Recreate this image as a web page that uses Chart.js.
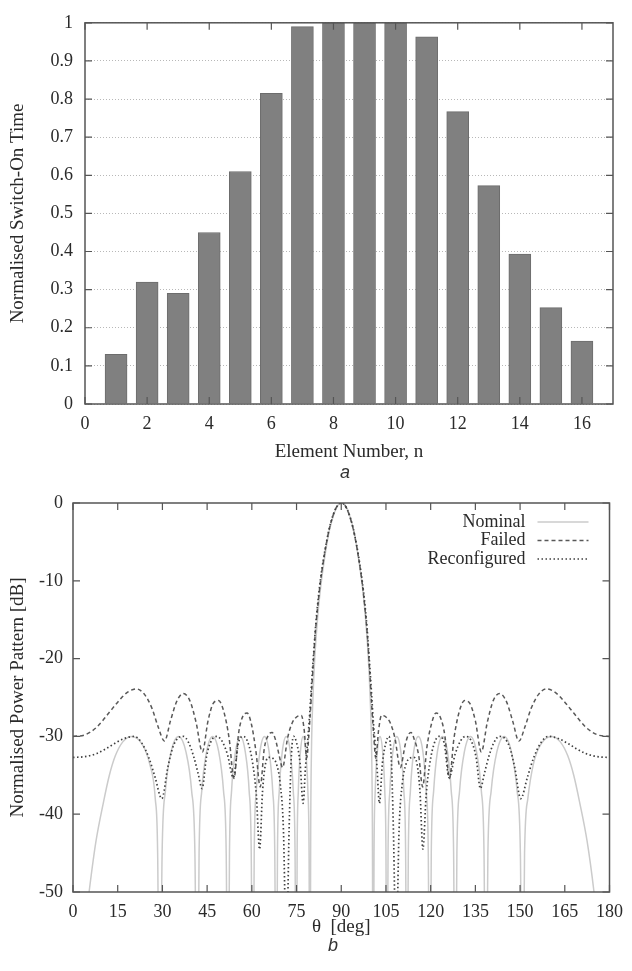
<!DOCTYPE html>
<html>
<head>
<meta charset="utf-8">
<script src="https://cdn.jsdelivr.net/npm/chart.js@4.4.0/dist/chart.umd.min.js"></script>
<style>
  body { margin: 0; background: #fff; width: 632px; height: 971px; position: relative; overflow: hidden; }
  .box { position: absolute; left: 0; width: 632px; }
  .tag { position: absolute; width: 40px; text-align: center; font: italic 18px "Liberation Sans", Arial, sans-serif; color: #333; }
</style>
</head>
<body>
<div class="box" style="top:0;height:480px"><canvas id="switchChart"></canvas></div>
<div class="tag" style="left:325px;top:462px">a</div>
<div class="box" style="top:480px;height:491px"><canvas id="patternChart"></canvas></div>
<div class="tag" style="left:313px;top:935px">b</div>
<script>
// (a) switch-on time per element
const elementNumbers = [1, 2, 3, 4, 5, 6, 7, 8, 9, 10, 11, 12, 13, 14, 15, 16];
const switchOnTimes = [0.13, 0.32, 0.29, 0.45, 0.61, 0.815, 0.99, 1.0, 1.0, 1.0, 0.963, 0.767, 0.573, 0.393, 0.253, 0.165];
const elementTicks = [0, 2, 4, 6, 8, 10, 12, 14, 16];
const switchTicks = [0, 0.1, 0.2, 0.3, 0.4, 0.5, 0.6, 0.7, 0.8, 0.9, 1];

// (b) power patterns, theta in degrees, values in dB
const nominalTheta = [0, 3, 5.4, 7.7, 10.2, 12.2, 14.2, 16.7, 19.6, 23.2, 25.7, 27.6, 28.4, 29.1,
  29.9, 31.0, 32.9, 35.4, 37.9, 39.8, 40.9, 41.7,
  42.3, 43.2, 44.8, 46.85, 48.9, 50.5, 51.4, 52.0,
  52.5, 53.2, 54.5, 56.15, 57.8, 59.1, 59.8, 60.3,
  60.8, 61.5, 62.7, 64.25, 65.8, 67.0, 67.7, 68.2,
  68.6, 69.2, 70.2, 71.55, 72.9, 73.9, 74.5, 74.9,
  75.2, 75.6, 76.3, 77.2, 78.1, 78.8, 79.2, 79.5,
  79.75, 80.0, 80.5, 81.1, 82.1, 83.1, 84.1, 85.1, 86.1, 87.1, 88.1, 89.1, 90.1,
  91.1, 92.1, 93.1, 94.1, 95.1, 96.1, 97.1, 98.1, 99.1, 99.7, 100.2, 100.45, 100.7,
  101.0, 101.4, 102.1, 103.0, 103.9, 104.6, 105.0, 105.3,
  105.7, 106.3, 107.3, 108.65, 110.0, 111.0, 111.6, 112.0,
  112.5, 113.2, 114.3, 115.85, 117.4, 118.5, 119.2, 119.7,
  120.2, 121.0, 122.25, 123.95, 125.65, 126.9, 127.7, 128.2,
  128.8, 129.7, 131.3, 133.35, 135.4, 137.0, 137.9, 138.5,
  139.2, 140.3, 142.2, 144.65, 147.1, 149.0, 150.1, 150.8,
  151.5, 152.6, 154.5, 157, 160.6, 163.5, 166, 168, 170, 172.5, 174.8, 177, 180];
const nominalDb = [-80, -58, -50, -43.5, -38.5, -35, -32.5, -30.7, -30, -31, -33.5, -38, -45, -75,
  -45, -37, -32, -30, -32, -37, -45, -75,
  -45, -37, -32, -30, -32, -37, -45, -75,
  -45, -37, -32, -30, -32, -37, -45, -75,
  -45, -37, -32, -30, -32, -37, -45, -75,
  -45, -37, -32, -30, -32, -37, -45, -75,
  -45, -37, -32, -30, -32, -37, -45, -75,
  -42, -32, -25, -20, -14.6, -10.8, -7.9, -5.4, -3.4, -1.95, -0.85, -0.2, 0,
  -0.2, -0.85, -1.95, -3.4, -5.4, -7.9, -10.8, -14.6, -20, -25, -32, -42, -75,
  -45, -37, -32, -30, -32, -37, -45, -75,
  -45, -37, -32, -30, -32, -37, -45, -75,
  -45, -37, -32, -30, -32, -37, -45, -75,
  -45, -37, -32, -30, -32, -37, -45, -75,
  -45, -37, -32, -30, -32, -37, -45, -75,
  -45, -37, -32, -30, -32, -37, -45, -75,
  -45, -38, -33.5, -31, -30, -30.7, -32.5, -35, -38.5, -43.5, -50, -58, -80];

const failedTheta = [0, 4, 8, 12, 15, 18, 21.3, 24, 26.5, 28.5, 30.7, 32.7, 34.8, 37, 39.2, 41.3, 43.4, 45.3, 47, 48.8,
  50.6, 52.4, 54, 55.6, 57, 58.4, 59.9, 61.4, 62.8, 64.2, 65.6, 66.8, 68, 69.2, 70.3, 72, 73.5, 75, 76.6, 77.6, 78.4,
  79.1, 79.7, 80.25, 80.8, 81.3, 82, 83, 84, 85, 86, 87, 88, 89, 90, 91, 92, 93, 94, 95, 96,
  97, 98, 98.7, 99.2, 99.75, 100.3, 100.9, 101.6,
  102.5, 103.5, 105, 106.5, 108, 109.8, 111.5, 112.5, 113.4, 114.6, 116, 117.3, 118.7, 120.2, 121.8, 123.2, 124.8,
  126.3, 127.8, 129.6, 131.4, 133.2, 135, 137, 139, 141, 143.2, 145.4, 147.5, 149.6, 151.7, 153.7, 156.2, 158.9,
  162, 165, 168, 172, 176, 180];
const failedDb = [-30, -29.8, -28.8, -27, -25.6, -24.4, -23.9, -24.6, -26.4, -28.7, -30.6, -28, -25.5, -24.5, -25.4, -28.2, -32, -28, -25.8, -25.4,
  -26.8, -30.3, -35.4, -29.5, -27.4, -27, -28.5, -32, -36.5, -31.5, -29.8, -29.5, -30.5, -32.5, -34, -30.2, -28.3, -27.5, -27.3, -29.3, -32.8,
  -30, -26.5, -23, -19.5, -16.7, -13.7, -10.2, -7.5, -5.2, -3.3, -1.9, -0.85, -0.2, 0, -0.2, -0.85, -1.9, -3.3, -5.2, -7.5,
  -10.2, -13.7, -16.7, -19.5, -23, -26.5, -30, -32.8,
  -29.3, -27.3, -27.5, -28.3, -30.2, -34, -31, -29.8, -29.5, -30.5, -32.5, -36.5, -31.5, -28.5, -27, -27.5, -30,
  -35.4, -30.3, -26.8, -25.4, -25.8, -28, -32, -28.2, -25.4, -24.5, -25.5, -28, -30.6, -28.7, -26.4, -24.6, -23.9,
  -24.4, -25.6, -27, -28.8, -29.8, -30];

const reconfTheta = [0, 4, 8, 11, 14, 17, 20.5, 23, 25.5, 27.5, 29.8, 31.8, 33.5, 35.3, 37, 38.8, 40.5, 42, 43.3, 44.8,
  46.5, 48.3, 50, 51.8, 53.8, 55.5, 57.2, 58.8, 60.3, 61.5, 62.6, 63.6, 64.6, 65.8, 67, 68.3, 69.5, 70.6, 71.6, 72.5,
  73.2, 74, 75, 76.2, 77.2, 78, 78.6,
  79.2, 79.75, 80.25, 80.8, 81.3, 82, 83, 84, 85, 86, 87, 88, 89, 90, 91, 92, 93, 94, 95, 96,
  97, 98, 98.7, 99.2, 99.75, 100.25, 100.8,
  101.4, 102, 102.8, 103.8, 105, 106, 106.8, 107.5, 108.4, 109.4, 110.5, 111.7, 113, 114.2, 115.4, 116.4, 117.4, 118.5,
  119.7, 121.2, 122.8, 124.5, 126.2, 128.2, 130, 131.7, 133.5, 135.2, 136.7, 138, 139.5, 141.2, 143, 144.7, 146.5,
  148.2, 150.2, 152.5, 154.5, 157, 159.5, 163, 166, 169, 172, 176, 180];
const reconfDb = [-32.7, -32.6, -32.2, -31.6, -30.9, -30.3, -30, -30.8, -32.8, -35.2, -38, -34, -31.4, -30.2, -30, -30.8, -32.6, -34.8, -36.7, -32.6,
  -30.5, -30, -30.6, -32.3, -35.3, -30.8, -30, -30.9, -33.5, -37.5, -44.5, -37, -33.5, -32.7, -32.8, -33.6, -36, -42, -58, -42,
  -33, -30, -30.8, -33.5, -38.6, -34, -31.2,
  -28.3, -25, -22, -19, -16.3, -13.3, -9.9, -7.3, -5.1, -3.25, -1.85, -0.82, -0.2, 0, -0.2, -0.82, -1.85, -3.25, -5.1, -7.3,
  -9.9, -13.3, -16.3, -19, -22, -25, -28.3,
  -31, -34, -38.6, -33.5, -30.8, -30, -33, -42, -58, -42, -36, -33.6, -32.8, -32.7, -33.5, -37, -44.5, -37.5,
  -33.5, -30.9, -30, -30.8, -35.3, -32.3, -30.6, -30, -30.5, -32.6, -36.7, -34.8, -32.6, -30.8, -30, -30.2, -31.4,
  -34, -38, -35.2, -32.8, -30.8, -30, -30.3, -30.9, -31.6, -32.2, -32.6, -32.7];
const thetaTicks = [0, 15, 30, 45, 60, 75, 90, 105, 120, 135, 150, 165, 180];
const dbTicks = [-50, -40, -30, -20, -10, 0];

const serif = '"Liberation Serif", "Times New Roman", serif';
const ink = '#2a2a2a';

function pairs(xs, ys) {
  return xs.map((v, i) => ({ x: v, y: ys[i] }));
}

// gnuplot-like box with inward ticks on all four sides
const framePlugin = {
  id: 'frame',
  afterDatasetsDraw(chart) {
    const { ctx, chartArea: a, scales: { x, y } } = chart;
    ctx.save();
    ctx.strokeStyle = '#555';
    ctx.lineWidth = 1.5;
    ctx.strokeRect(a.left, a.top, a.right - a.left, a.bottom - a.top);
    ctx.lineWidth = 1.2;
    const len = 7;
    ctx.beginPath();
    x.ticks.forEach(t => {
      const px = x.getPixelForValue(t.value);
      ctx.moveTo(px, a.bottom); ctx.lineTo(px, a.bottom - len);
      ctx.moveTo(px, a.top); ctx.lineTo(px, a.top + len);
    });
    y.ticks.forEach(t => {
      const py = y.getPixelForValue(t.value);
      ctx.moveTo(a.left, py); ctx.lineTo(a.left + len, py);
      ctx.moveTo(a.right, py); ctx.lineTo(a.right - len, py);
    });
    ctx.stroke();
    ctx.restore();
  }
};

// legend inside the top-right corner, text first then the line sample
const insideLegend = {
  id: 'insideLegend',
  afterDatasetsDraw(chart) {
    const { ctx, chartArea: a } = chart;
    ctx.save();
    ctx.font = '18px ' + serif;
    ctx.textAlign = 'right';
    ctx.textBaseline = 'middle';
    chart.data.datasets.forEach((ds, i) => {
      const yy = a.top + 19 + i * 18.5;
      ctx.fillStyle = ink;
      ctx.fillText(ds.label, a.right - 84, yy);
      ctx.strokeStyle = ds.borderColor;
      ctx.lineWidth = ds.borderWidth;
      ctx.setLineDash(ds.borderDash || []);
      ctx.beginPath();
      ctx.moveTo(a.right - 72, yy);
      ctx.lineTo(a.right - 21, yy);
      ctx.stroke();
    });
    ctx.restore();
  }
};

new Chart(document.getElementById('switchChart'), {
  type: 'bar',
  data: {
    datasets: [{
      data: pairs(elementNumbers, switchOnTimes),
      backgroundColor: '#808080',
      borderColor: '#6c6c6c',
      borderWidth: 1,
      barThickness: 22
    }]
  },
  options: {
    responsive: true,
    maintainAspectRatio: false,
    animation: false,
    layout: { padding: { top: 19, right: 19, left: 0, bottom: 0 } },
    plugins: { legend: { display: false }, tooltip: { enabled: false } },
    scales: {
      x: {
        type: 'linear',
        min: 0,
        max: 17,
        offset: false,
        afterBuildTicks: s => { s.ticks = elementTicks.map(v => ({ value: v })); },
        afterFit: s => { s.height = 76; },
        grid: { display: false, drawTicks: false },
        border: { display: false },
        ticks: { color: ink, font: { family: serif, size: 18 }, padding: 9, maxRotation: 0 },
        title: { display: true, text: 'Element Number, n', color: ink, font: { family: serif, size: 19 }, padding: { bottom: 17 } }
      },
      y: {
        min: 0,
        max: 1,
        afterBuildTicks: s => { s.ticks = switchTicks.map(v => ({ value: v })); },
        afterFit: s => { s.width = 85; },
        grid: { color: '#b8b8b8', drawTicks: false, lineWidth: 1 },
        border: { display: false, dash: [1, 2] },
        ticks: { color: ink, font: { family: serif, size: 18 }, padding: 12, callback: v => String(v) },
        title: { display: true, text: 'Normalised Switch-On Time', color: ink, font: { family: serif, size: 19 }, padding: { top: 7 } }
      }
    }
  },
  plugins: [framePlugin]
});

new Chart(document.getElementById('patternChart'), {
  type: 'line',
  data: {
    datasets: [
      {
        label: 'Nominal',
        data: pairs(nominalTheta, nominalDb),
        borderColor: '#cbcbcb',
        borderWidth: 1.5,
        order: 3
      },
      {
        label: 'Failed',
        data: pairs(failedTheta, failedDb),
        borderColor: '#585858',
        borderWidth: 1.5,
        borderDash: [4, 3],
        order: 2
      },
      {
        label: 'Reconfigured',
        data: pairs(reconfTheta, reconfDb),
        borderColor: '#404040',
        borderWidth: 1.7,
        borderDash: [1.5, 2.5],
        order: 1
      }
    ]
  },
  options: {
    responsive: true,
    maintainAspectRatio: false,
    animation: false,
    layout: { padding: { top: 23, right: 19, left: 0, bottom: 0 } },
    elements: { point: { radius: 0 }, line: { cubicInterpolationMode: 'monotone', fill: false } },
    plugins: { legend: { display: false }, tooltip: { enabled: false } },
    scales: {
      x: {
        type: 'linear',
        min: 0,
        max: 180,
        afterBuildTicks: s => { s.ticks = thetaTicks.map(v => ({ value: v })); },
        afterFit: s => { s.height = 79; },
        grid: { display: false, drawTicks: false },
        border: { display: false },
        ticks: { color: ink, font: { family: serif, size: 18 }, padding: 9, maxRotation: 0, callback: v => String(v) },
        title: { display: true, text: 'θ  [deg]', color: ink, font: { family: serif, size: 19 }, padding: { bottom: 33 } }
      },
      y: {
        min: -50,
        max: 0,
        afterBuildTicks: s => { s.ticks = dbTicks.map(v => ({ value: v })); },
        afterFit: s => { s.width = 73; },
        grid: { display: false, drawTicks: false },
        border: { display: false },
        ticks: { color: ink, font: { family: serif, size: 18 }, padding: 10, callback: v => String(v) },
        title: { display: true, text: 'Normalised Power Pattern [dB]', color: ink, font: { family: serif, size: 19 }, padding: { top: 7 } }
      }
    }
  },
  plugins: [framePlugin, insideLegend]
});
</script>
</body>
</html>
